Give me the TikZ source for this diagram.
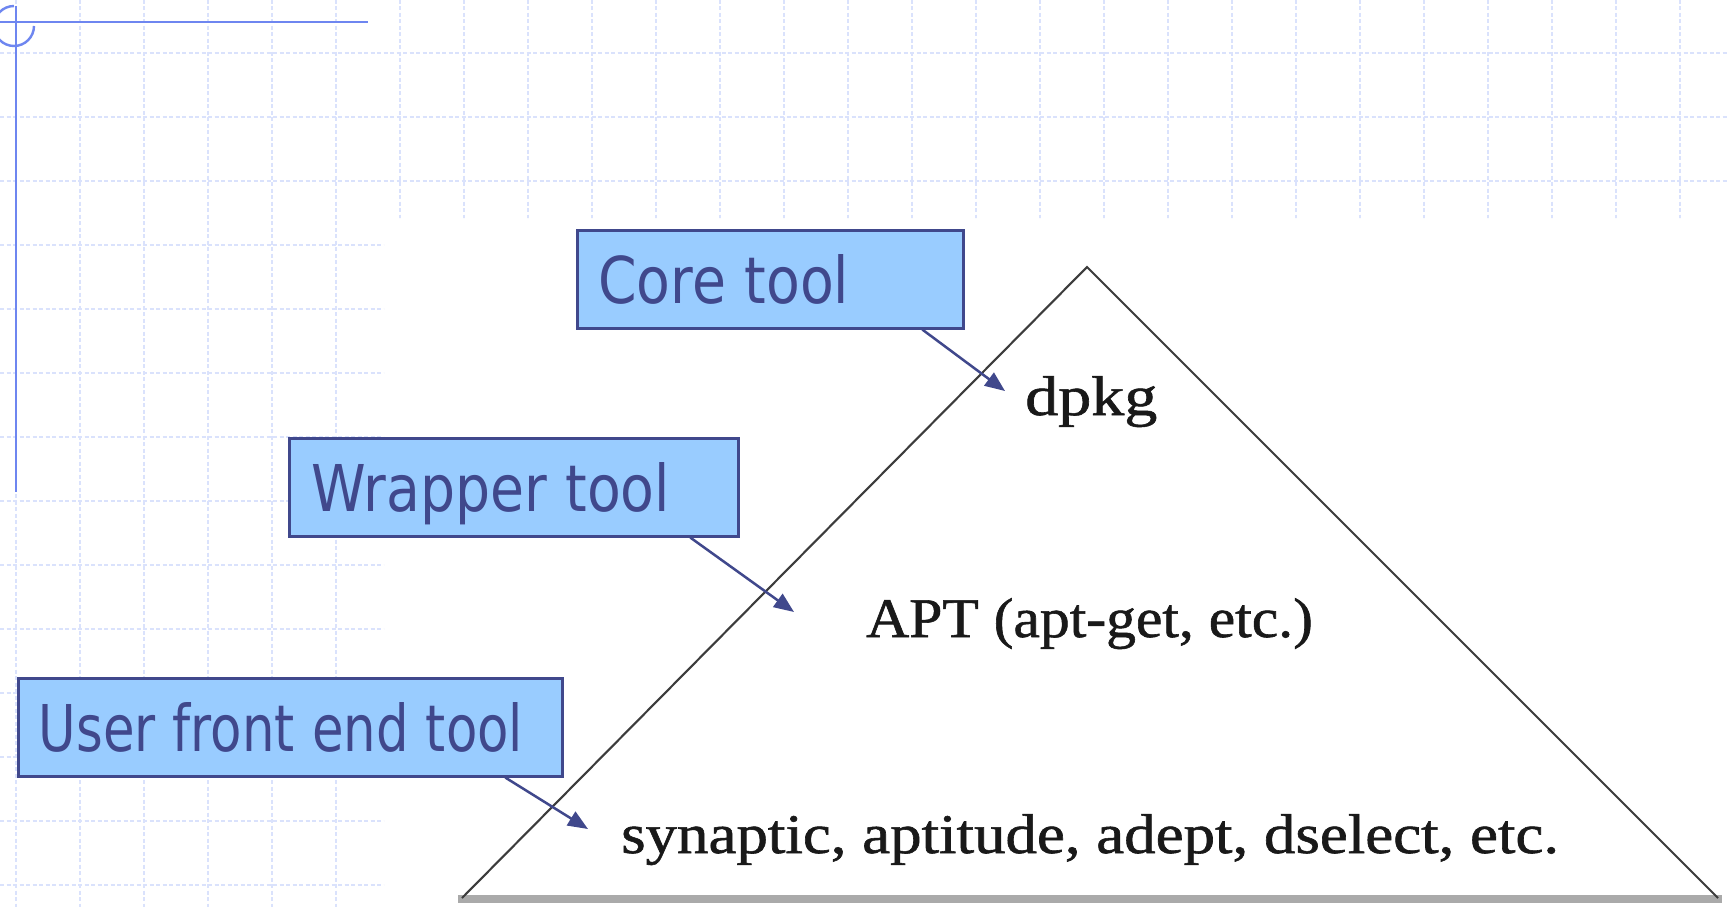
\documentclass[tikz,border=0pt]{standalone}
\usepackage{fontspec}
\usepackage{graphicx}
\usetikzlibrary{arrows.meta}
\newfontfamily\lblfont{DejaVu Sans}
\newfontfamily\serfont[FakeBold=1]{Liberation Serif}
\definecolor{gridc}{RGB}{218,226,252}
\definecolor{deco}{RGB}{110,134,240}
\definecolor{boxfill}{RGB}{153,204,255}
\definecolor{boxline}{RGB}{64,72,140}
\definecolor{tri}{RGB}{60,60,60}
\definecolor{basec}{RGB}{170,170,170}
\definecolor{sertextc}{RGB}{25,25,25}
\tikzset{
  gridline/.style={draw=gridc, line width=1.6pt, dash pattern=on 4pt off 2.5pt},
  decoline/.style={draw=deco, line width=2.4pt},
  labelbox/.style={draw=boxline, fill=boxfill, line width=2.5pt, anchor=north west,
    inner ysep=0pt, align=left, text=boxline, text height=73pt, text depth=25pt,
    font=\lblfont\fontsize{64.5pt}{70pt}\selectfont},
  sertext/.style={anchor=base west, inner sep=0pt, text=sertextc,
    font=\serfont\fontsize{56pt}{60pt}\selectfont},
  pointer/.style={draw=boxline, line width=2.5pt, -{Triangle[length=20pt,width=16pt]}},
  triline/.style={draw=tri, line width=2.1pt},
}
\begin{document}
\begin{tikzpicture}[x=1pt,y=-1pt]
\useasboundingbox (0,0) rectangle (1729,907);
\fill[white] (0,0) rectangle (1729,907);
% background grid
\begin{scope}
\clip (0,0) -- (1729,0) -- (1729,218) -- (384,218) -- (384,907) -- (0,907) -- cycle;
\foreach \x in {16,80,...,1700} \draw[gridline] (\x,0) -- (\x,907);
\foreach \y in {53,117,...,900} \draw[gridline] (0,\y) -- (1729,\y);
\end{scope}
% slide decoration
\draw[decoline] (0,22) -- (368,22);
\draw[decoline] (16,6) -- (16,492);
\draw[decoline] (14,26) ++(-90:20) arc[start angle=-90, end angle=-360, radius=20];
% pyramid
\fill[basec] (458,895) rectangle (1722,903);
\draw[triline] (462,898) -- (1087,267) -- (1718,898);
% texts inside the pyramid
\node[sertext] (dpkg) at (1025,415) {\scalebox{1.18}[1]{dpkg}};
\node[sertext] (apt) at (866,637) {\scalebox{1.064}[1]{APT (apt-get, etc.)}};
\node[sertext] (syn) at (621,853) {\scalebox{1.123}[1]{synaptic, aptitude, adept, dselect, etc.}};
% label boxes
\node[labelbox, inner xsep=21pt, text width=344pt] (core) at (576,229) {\scalebox{0.857}[1]{Core tool}};
\node[labelbox, inner xsep=22pt, text width=405pt] (wrap) at (288,437) {\scalebox{0.857}[1]{Wrapper tool}};
\node[labelbox, inner xsep=20.5pt, text width=503pt] (user) at (17,677) {\scalebox{0.796}[1]{User front end tool}};
% pointers
\coordinate (coretip) at (1005,391);
\coordinate (wraptip) at (794,612);
\coordinate (usertip) at (588,829);
\draw[pointer] ([xshift=152pt]core.south) -- (coretip);
\draw[pointer] ([xshift=176.5pt]wrap.south) -- (wraptip);
\draw[pointer] ([xshift=215pt]user.south) -- (usertip);
\end{tikzpicture}
\end{document}
